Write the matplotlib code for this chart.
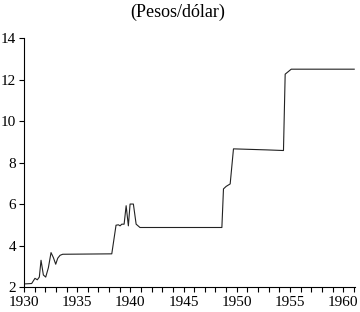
import matplotlib
matplotlib.use("Agg")
import matplotlib.pyplot as plt
from matplotlib.ticker import MultipleLocator

# tipo de cambio, pesos por dólar
years = [1930.0, 1930.72, 1931.03, 1931.25, 1931.44, 1931.6, 1931.82, 1932.04,
         1932.29, 1932.54, 1932.76, 1932.98, 1933.17, 1933.39, 1933.64, 1938.25,
         1938.65, 1938.87, 1939.03, 1939.19, 1939.41, 1939.6, 1939.81, 1939.97,
         1940.28, 1940.54, 1940.9, 1948.6, 1948.75, 1949.0, 1949.38, 1949.69,
         1952.83, 1954.39, 1954.55, 1955.12, 1961.04]
rate = [2.15, 2.17, 2.42, 2.35, 2.48, 3.29, 2.58, 2.48,
        2.93, 3.66, 3.42, 3.10, 3.39, 3.53, 3.58, 3.60,
        4.98, 5.00, 4.95, 5.03, 5.03, 5.92, 4.95, 6.00,
        6.00, 5.03, 4.87, 4.87, 6.73, 6.85, 6.97, 8.66,
        8.61, 8.58, 12.26, 12.50, 12.50]

title = "(Pesos/dólar)"

plt.rcParams["font.family"] = ["Liberation Serif", "DejaVu Serif"]

fig = plt.figure(figsize=(3.6, 3.12), dpi=100)
ax = fig.add_axes([0.0667, 0.080, 0.919, 0.798])

ax.plot(years, rate, color="#222222", lw=0.8)

ax.set_xlim(1930, 1961.1)
ax.set_ylim(2, 14)
ax.xaxis.set_major_locator(MultipleLocator(5))
ax.xaxis.set_minor_locator(MultipleLocator(1))
ax.yaxis.set_major_locator(MultipleLocator(2))
ax.tick_params(axis="both", which="both", direction="out",
               length=3.5, width=0.8, labelsize=11)
ax.tick_params(axis="x", which="major", pad=3)
ax.tick_params(axis="y", which="major", pad=2)
ax.tick_params(axis="y", which="minor", length=0)

for side in ("top", "right"):
    ax.spines[side].set_visible(False)
for side in ("left", "bottom"):
    ax.spines[side].set_linewidth(0.8)

fig.text(0.493, 0.962, title, ha="center", va="center", fontsize=13)

fig.savefig("out.png", dpi=100)
